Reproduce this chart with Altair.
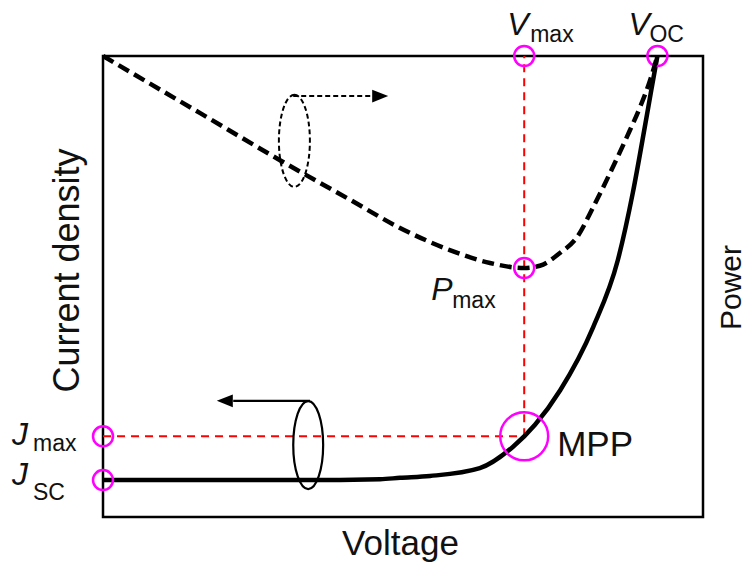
import altair as alt
import pandas as pd

# J-V curve of the cell (normalised voltage, normalised current density)
jv_voltage = [0.000, 0.328, 0.462, 0.495, 0.545, 0.628, 0.683, 0.720, 0.762,
              0.817, 0.858, 0.883, 0.903, 0.913, 0.924]
jv_current = [0.080, 0.080, 0.082, 0.085, 0.089, 0.106, 0.152, 0.200, 0.275,
              0.412, 0.557, 0.703, 0.846, 0.920, 1.000]

# P-V curve (normalised voltage, normalised power; 0 at the top of the frame)
pv_voltage = [0.000, 0.162, 0.295, 0.412, 0.495, 0.578, 0.645, 0.702, 0.728,
              0.762, 0.790, 0.817, 0.845, 0.873, 0.895, 0.912, 0.924]
pv_power = [0.000, -0.124, -0.226, -0.312, -0.373, -0.421, -0.449, -0.460, -0.455,
            -0.427, -0.393, -0.328, -0.254, -0.176, -0.111, -0.052, 0.000]

# characteristic points
V_MAX = 0.702
V_OC = 0.924
J_MAX = 0.175
J_SC = 0.080
P_MAX = -0.460
J_TOP = 1.0

FONT = "Liberation Sans"
MAGENTA = "#ff00ff"
RED = "#ff0000"
INK = "#111111"

x_scale = alt.Scale(domain=[0, 1], nice=False, zero=False)
j_scale = alt.Scale(domain=[0, 1], nice=False, zero=False)
p_scale = alt.Scale(domain=[-1, 0], nice=False, zero=False)

common_axis = dict(domain=False, ticks=False, labels=False, grid=False,
                   titleFont=FONT, titleFontWeight="normal", titleColor=INK)
x_axis = alt.Axis(title="Voltage", titleX=297, titleY=9, titleFontSize=35,
                  **common_axis)
j_axis = alt.Axis(title="Current density", orient="left", titleAngle=270,
                  titleBaseline="bottom", titleX=-17, titleY=214,
                  titleFontSize=36, **common_axis)
p_axis = alt.Axis(title="Power", orient="right", titleAngle=270,
                  titleBaseline="top", titleX=13, titleY=231,
                  titleFontSize=30, **common_axis)


def X(field="v"):
    return alt.X(f"{field}:Q", scale=x_scale, axis=x_axis)


def YJ(field="j"):
    return alt.Y(f"{field}:Q", scale=j_scale, axis=j_axis)


def YP(field="p"):
    return alt.Y(f"{field}:Q", scale=p_scale, axis=p_axis)


jv = pd.DataFrame({"v": jv_voltage, "j": jv_current})
pv = pd.DataFrame({"v": pv_voltage, "p": pv_power})

# --- current-density layers -------------------------------------------------
jv_line = alt.Chart(jv).mark_line(
    color="black", strokeWidth=4.5, interpolate="monotone", strokeCap="butt"
).encode(x=X(), y=YJ())

guides = pd.DataFrame({
    "v": [V_MAX, 0.0], "v2": [V_MAX, V_MAX],
    "j": [J_MAX, J_MAX], "j2": [J_TOP, J_MAX],
})
guide_rules = alt.Chart(guides).mark_rule(
    color=RED, strokeWidth=2, strokeDash=[8, 6]
).encode(x=X(), x2="v2:Q", y=YJ(), y2="j2:Q")

small_circles = pd.DataFrame({
    "v": [0.0, 0.0, V_MAX, V_OC],
    "j": [J_SC, J_MAX, J_TOP, J_TOP],
})
small_marks = alt.Chart(small_circles).mark_point(
    shape="circle", size=400, filled=False, stroke=MAGENTA, strokeWidth=2.5, opacity=1
).encode(x=X(), y=YJ())

mpp = pd.DataFrame({"v": [V_MAX], "j": [J_MAX]})
mpp_mark = alt.Chart(mpp).mark_point(
    shape="circle", size=2300, filled=False, stroke=MAGENTA, strokeWidth=2.5, opacity=1
).encode(x=X(), y=YJ())

# axis-pointer ellipses with arrows
ELLIPSE_J = "M0,-1A0.34,1,0,1,1,0,1A0.34,1,0,1,1,0,-1Z"
ELLIPSE_P = "M0,-1A0.337,1,0,1,1,0,1A0.337,1,0,1,1,0,-1Z"
HEAD_LEFT = "M-1,0L1,-0.8L1,0.8Z"
HEAD_RIGHT = "M1,0L-1,-0.8L-1,0.8Z"

ell_j = pd.DataFrame({"v": [0.342], "j": [0.156]})
ell_j_mark = alt.Chart(ell_j).mark_point(
    shape=ELLIPSE_J, size=88 ** 2, filled=False, stroke="black", strokeWidth=2.2, opacity=1
).encode(x=X(), y=YJ())

arrow_j = pd.DataFrame({"v": [0.345], "v2": [0.217], "j": [0.252]})
arrow_j_line = alt.Chart(arrow_j).mark_rule(color="black", strokeWidth=2.2).encode(
    x=X(), x2="v2:Q", y=YJ())
head_j = pd.DataFrame({"v": [0.203], "j": [0.252]})
head_j_mark = alt.Chart(head_j).mark_point(
    shape=HEAD_LEFT, size=16 ** 2, filled=True, color="black", opacity=1
).encode(x=X(), y=YJ())

ell_p = pd.DataFrame({"v": [0.319], "j": [0.816]})
ell_p_mark = alt.Chart(ell_p).mark_point(
    shape=ELLIPSE_P, size=92 ** 2, filled=False, stroke="black", strokeWidth=2,
    strokeDash=[5, 3], opacity=1
).encode(x=X(), y=YJ())

arrow_p = pd.DataFrame({"v": [0.317], "v2": [0.448], "j": [0.913]})
arrow_p_line = alt.Chart(arrow_p).mark_rule(
    color="black", strokeWidth=2, strokeDash=[5, 3]).encode(x=X(), x2="v2:Q", y=YJ())
head_p = pd.DataFrame({"v": [0.462], "j": [0.913]})
head_p_mark = alt.Chart(head_p).mark_point(
    shape=HEAD_RIGHT, size=16 ** 2, filled=True, color="black", opacity=1
).encode(x=X(), y=YJ())


def label(v, j, text, dx, dy, size, italic=False):
    df = pd.DataFrame({"v": [v], "j": [j], "t": [text]})
    props = dict(align="left", baseline="alphabetic", dx=dx, dy=dy,
                 font=FONT, fontSize=size, color=INK)
    if italic:
        props["fontStyle"] = "italic"
    return alt.Chart(df).mark_text(**props).encode(x=X(), y=YJ(), text="t:N")


MAIN = 32
SUB = 23
labels = [
    label(0.0, J_MAX, "J", -91, 9, MAIN, True),
    label(0.0, J_MAX, "max", -70, 15, SUB),
    label(0.0, J_SC, "J", -91, 5, MAIN, True),
    label(0.0, J_SC, "SC", -70, 20, SUB),
    label(V_MAX, J_TOP, "V", -17, -21, MAIN, True),
    label(V_MAX, J_TOP, "max", 6, -14, SUB),
    label(V_OC, J_TOP, "V", -29, -21, MAIN, True),
    label(V_OC, J_TOP, "OC", -8, -14, SUB),
    label(V_MAX, J_MAX, "MPP", 33, 20, 35),
]

current_group = alt.layer(
    guide_rules, jv_line, ell_j_mark, arrow_j_line, head_j_mark,
    ell_p_mark, arrow_p_line, head_p_mark, small_marks, mpp_mark, *labels
)

# --- power layers -------------------------------------------------------------
pv_line = alt.Chart(pv).mark_line(
    color="black", strokeWidth=4.5, strokeDash=[12, 6], interpolate="monotone"
).encode(x=X(), y=YP())

pmax = pd.DataFrame({"v": [V_MAX], "p": [P_MAX]})
pmax_mark = alt.Chart(pmax).mark_point(
    shape="circle", size=400, filled=False, stroke=MAGENTA, strokeWidth=2.5, opacity=1
).encode(x=X(), y=YP())


def plabel(text, dx, dy, size, italic=False):
    df = pd.DataFrame({"v": [V_MAX], "p": [P_MAX], "t": [text]})
    props = dict(align="left", baseline="alphabetic", dx=dx, dy=dy,
                 font=FONT, fontSize=size, color=INK)
    if italic:
        props["fontStyle"] = "italic"
    return alt.Chart(df).mark_text(**props).encode(x=X(), y=YP(), text="t:N")


power_group = alt.layer(
    pv_line, pmax_mark,
    plabel("P", -93, 32, MAIN, True),
    plabel("max", -72, 40, SUB),
)

chart = (
    alt.layer(current_group, power_group)
    .resolve_scale(y="independent")
    .properties(
        width=600, height=461,
        autosize=alt.AutoSizeParams(type="none"),
        padding={"left": 103, "top": 56, "right": 44, "bottom": 47},
        background="white",
    )
    .configure_view(stroke="black", strokeWidth=2.5)
)

chart.save("out.html", embed_options={"renderer": "svg", "actions": False})
